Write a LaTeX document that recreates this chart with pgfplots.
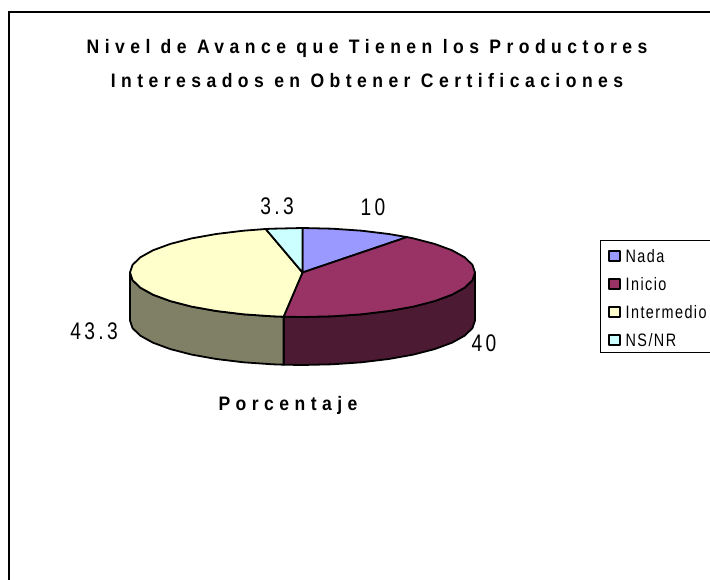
\documentclass[border=0pt]{standalone}
\usepackage{fontspec}
\usepackage{pgfplots}
\pgfplotsset{compat=1.18}
\setmainfont{Liberation Sans}
\newfontfamily\spaced[LetterSpace=14,FakeStretch=0.8]{Liberation Sans}
\newfontfamily\spacedleg[LetterSpace=8,FakeStretch=0.8]{Liberation Sans}
\newfontfamily\spacedb[LetterSpace=28,FakeStretch=0.9,BoldFont={Liberation Sans Bold},BoldFeatures={LetterSpace=28,FakeStretch=0.9}]{Liberation Sans}

\definecolor{nada}{HTML}{9999FF}
\definecolor{inicio}{HTML}{993366}
\definecolor{interm}{HTML}{FFFFCC}
\definecolor{nsnr}{HTML}{CCFFFF}
\definecolor{iniciodark}{HTML}{4D1A33}
\definecolor{intermdark}{HTML}{808066}

\begin{document}
\begin{tikzpicture}
\path[use as bounding box] (0,0) rectangle (710pt,580pt);
\begin{axis}[
    at={(0,0)}, anchor=south west,
    scale only axis, width=710pt, height=580pt,
    xmin=0, xmax=710, ymin=0, ymax=580,
    y dir=reverse,
    hide axis,
    clip=false,
    legend style={
        at={(axis cs:600,240)}, anchor=north west,
        draw=black, line width=0.9pt, inner xsep=8pt, inner ysep=5pt,
        font=\spacedleg\fontsize{18}{18}\selectfont,
        row sep=10pt,
        nodes={inner sep=0pt, anchor=base west, text height=17.5pt, text depth=0.5pt},
        /tikz/every even column/.append style={column sep=0pt},
        /tikz/every odd column/.append style={column sep=5pt},
    },
    legend cell align=left,
    legend image code/.code={
        \draw[#1, line width=1.2pt] (0pt,2pt) rectangle (11pt,12pt);
    },
    every axis plot/.append style={draw=black, line width=1.8pt, line join=round},
]
% pie in pixel coordinates, values 10, 40, 43.3, 3.3
% side walls first
\addplot[forget plot, fill=iniciodark] coordinates {
    (475.0,272.5) (472.4,280.2) (464.6,287.7) (451.9,294.75) (434.6,301.1)
    (413.4,306.6) (388.8,311.0) (361.5,314.3) (332.5,316.3) (302.5,317.0) (283.6,316.7)
    (283.6,364.7) (302.5,365.0) (332.5,364.3) (361.5,362.3) (388.8,359.0) (413.4,354.6)
    (434.6,349.1) (451.9,342.75) (464.6,335.7) (472.4,328.2) (475.0,320.5)
} --cycle;
\addplot[forget plot, fill=intermdark] coordinates {
    (283.6,316.7) (272.5,316.3) (243.5,314.3) (216.25,311.0) (191.6,306.6) (170.4,301.1)
    (153.1,294.75) (140.4,287.7) (132.6,280.2) (130.0,272.5)
    (130.0,320.5) (132.6,328.2) (140.4,335.7) (153.1,342.75) (170.4,349.1) (191.6,354.6)
    (216.25,359.0) (243.5,362.3) (272.5,364.3) (283.6,364.7)
} --cycle;
% top slices
\addplot[fill=nada] coordinates {
    (302.5,272.5) (302.5,228.0) (332.5,228.7) (361.5,230.7) (388.8,234.0) (407.0,237.1)
} --cycle;
\addlegendentry{Nada}
\addplot[fill=inicio] coordinates {
    (302.5,272.5) (407.0,237.1) (413.4,238.4) (434.6,243.9) (451.9,250.25) (464.6,257.3)
    (472.4,264.8) (475.0,272.5) (472.4,280.2) (464.6,287.7) (451.9,294.75) (434.6,301.1)
    (413.4,306.6) (388.8,311.0) (361.5,314.3) (332.5,316.3) (302.5,317.0) (283.6,316.7)
} --cycle;
\addlegendentry{Inicio}
\addplot[fill=interm] coordinates {
    (302.5,272.5) (283.6,316.7) (272.5,316.3) (243.5,314.3) (216.25,311.0) (191.6,306.6)
    (170.4,301.1) (153.1,294.75) (140.4,287.7) (132.6,280.2) (130.0,272.5) (132.6,264.8)
    (140.4,257.3) (153.1,250.25) (170.4,243.9) (191.6,238.4) (216.25,234.0) (243.5,230.7)
    (265.7,229.0)
} --cycle;
\addlegendentry{Intermedio}
\addplot[fill=nsnr] coordinates {
    (302.5,272.5) (265.7,229.0) (272.5,228.7) (302.5,228.0)
} --cycle;
\addlegendentry{NS/NR}

% chart frame
\draw[black, line width=2pt] (axis cs:9,580) -- (axis cs:9,12) -- (axis cs:710,12);

% titles
\node[font=\spacedb\bfseries\fontsize{19.5}{19.5}\selectfont] at (axis cs:367,48)
    {Nivel de Avance que Tienen los Productores};
\node[font=\spacedb\bfseries\fontsize{19.5}{19.5}\selectfont] at (axis cs:367,81)
    {Interesados en Obtener Certificaciones};
\node[font=\spacedb\bfseries\fontsize{19.5}{19.5}\selectfont] at (axis cs:288,405) {Porcentaje};

% data labels
\node[font=\spaced\fontsize{24}{24}\selectfont] at (axis cs:373,207) {10};
\node[font=\spaced\fontsize{24}{24}\selectfont] at (axis cs:277,206) {3.3};
\node[font=\spaced\fontsize{24}{24}\selectfont] at (axis cs:94,331) {43.3};
\node[font=\spaced\fontsize{24}{24}\selectfont] at (axis cs:484,343) {40};
\end{axis}
\end{tikzpicture}
\end{document}
